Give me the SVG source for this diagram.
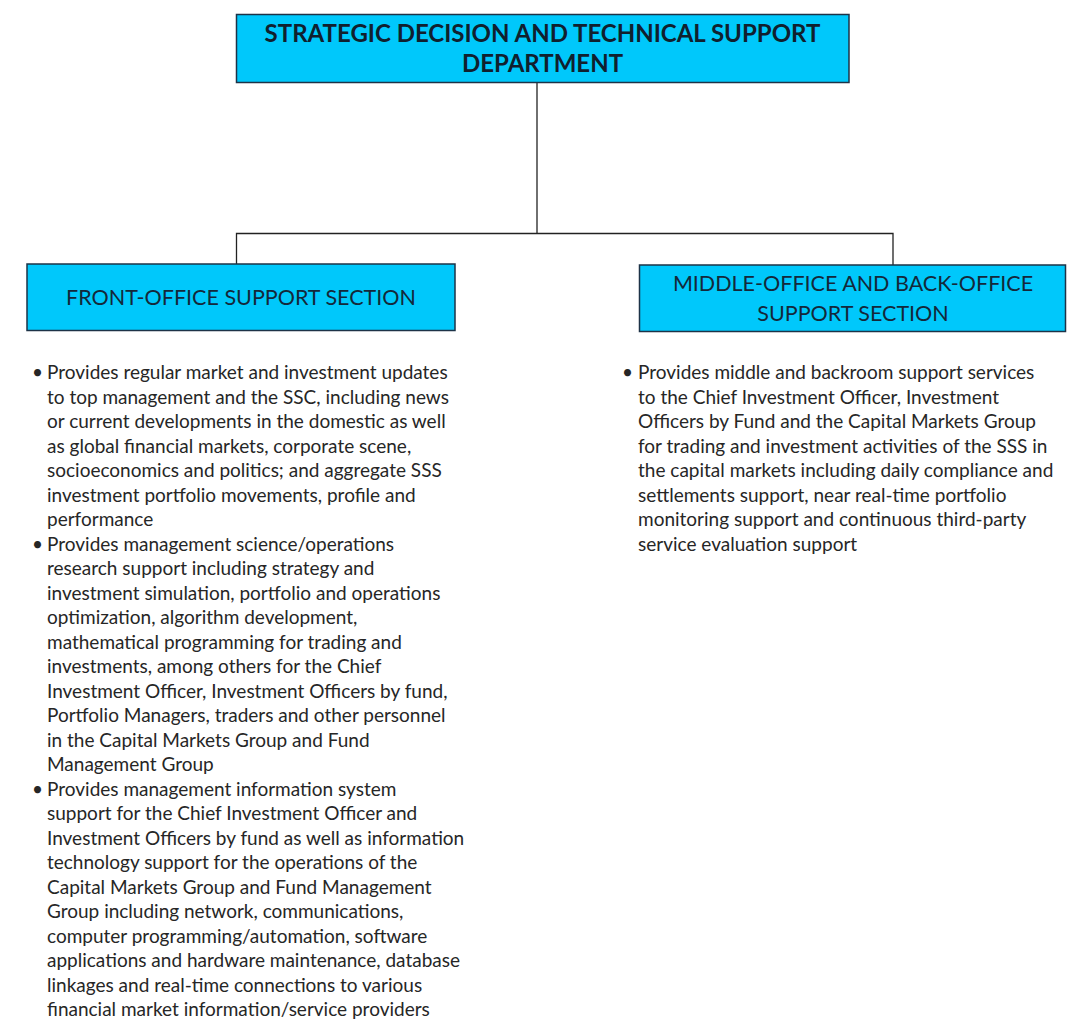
<svg xmlns="http://www.w3.org/2000/svg" width="1077" height="1036" viewBox="0 0 1077 1036">
  <style>
    .box { fill: #00c8fb; stroke: #1d3347; stroke-width: 1.5; }
    .title { font-family: Lato, "Liberation Sans", sans-serif; font-size: 24px; font-weight: bold; fill: #10202e; text-anchor: middle; }
    .sect { font-family: Lato, "Liberation Sans", sans-serif; font-size: 21.5px; fill: #14283a; text-anchor: middle; }
    .body { font-family: Lato, "Liberation Sans", sans-serif; font-size: 19px; fill: #262626; }
    .wire { fill: none; stroke: #222; stroke-width: 1.3; }
  </style>
  <rect width="1077" height="1036" fill="#ffffff"/>

  <!-- connectors -->
  <g id="connectors">
    <path class="wire" d="M537 82.5 V233.5"/>
    <path class="wire" d="M236.5 264 V233.5 H893 V265"/>
  </g>

  <!-- department -->
  <g id="department">
    <rect class="box" x="236.5" y="14.5" width="612.5" height="68"/>
    <text class="title" x="542.5" y="41.5">STRATEGIC DECISION AND TECHNICAL SUPPORT</text>
    <text class="title" x="542.5" y="71.5">DEPARTMENT</text>
  </g>

  <!-- front-office section -->
  <g id="front-office">
    <rect class="box" x="27" y="264" width="428" height="66.5"/>
    <text class="sect" x="241" y="305">FRONT-OFFICE SUPPORT SECTION</text>
  </g>

  <!-- middle/back-office section -->
  <g id="middle-back-office">
    <rect class="box" x="639.5" y="265" width="426" height="66.5"/>
    <text class="sect" x="853" y="291">MIDDLE-OFFICE AND BACK-OFFICE</text>
    <text class="sect" x="853" y="321">SUPPORT SECTION</text>
  </g>

  <!-- front-office duties -->
  <g id="front-office-notes" class="body">
    <text x="32" y="379">•</text>
    <text x="47" y="379">Provides regular market and investment updates</text>
    <text x="47" y="403.5">to top management and the SSC, including news</text>
    <text x="47" y="428">or current developments in the domestic as well</text>
    <text x="47" y="452.5">as global financial markets, corporate scene,</text>
    <text x="47" y="477">socioeconomics and politics; and aggregate SSS</text>
    <text x="47" y="501.5">investment portfolio movements, profile and</text>
    <text x="47" y="526">performance</text>

    <text x="32" y="550.5">•</text>
    <text x="47" y="550.5">Provides management science/operations</text>
    <text x="47" y="575">research support including strategy and</text>
    <text x="47" y="599.5">investment simulation, portfolio and operations</text>
    <text x="47" y="624">optimization, algorithm development,</text>
    <text x="47" y="648.5">mathematical programming for trading and</text>
    <text x="47" y="673">investments, among others for the Chief</text>
    <text x="47" y="697.5">Investment Officer, Investment Officers by fund,</text>
    <text x="47" y="722">Portfolio Managers, traders and other personnel</text>
    <text x="47" y="746.5">in the Capital Markets Group and Fund</text>
    <text x="47" y="771">Management Group</text>

    <text x="32" y="795.5">•</text>
    <text x="47" y="795.5">Provides management information system</text>
    <text x="47" y="820">support for the Chief Investment Officer and</text>
    <text x="47" y="844.5">Investment Officers by fund as well as information</text>
    <text x="47" y="869">technology support for the operations of the</text>
    <text x="47" y="893.5">Capital Markets Group and Fund Management</text>
    <text x="47" y="918">Group including network, communications,</text>
    <text x="47" y="942.5">computer programming/automation, software</text>
    <text x="47" y="967">applications and hardware maintenance, database</text>
    <text x="47" y="991.5">linkages and real-time connections to various</text>
    <text x="47" y="1016">financial market information/service providers</text>
  </g>

  <!-- middle/back-office duties -->
  <g id="middle-back-office-notes" class="body">
    <text x="622" y="379">•</text>
    <text x="638" y="379">Provides middle and backroom support services</text>
    <text x="638" y="403.5">to the Chief Investment Officer, Investment</text>
    <text x="638" y="428">Officers by Fund and the Capital Markets Group</text>
    <text x="638" y="452.5">for trading and investment activities of the SSS in</text>
    <text x="638" y="477">the capital markets including daily compliance and</text>
    <text x="638" y="501.5">settlements support, near real-time portfolio</text>
    <text x="638" y="526">monitoring support and continuous third-party</text>
    <text x="638" y="550.5">service evaluation support</text>
  </g>
</svg>
